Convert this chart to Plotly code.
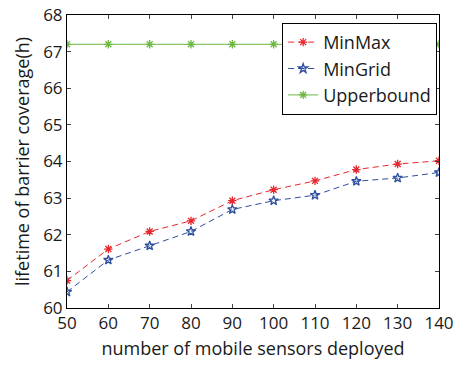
import plotly.graph_objects as go

sensors = [50, 60, 70, 80, 90, 100, 110, 120, 130, 140]
minmax = [60.75, 61.61, 62.09, 62.38, 62.93, 63.23, 63.47, 63.78, 63.93, 64.02]
mingrid = [60.44, 61.31, 61.70, 62.09, 62.69, 62.93, 63.08, 63.46, 63.55, 63.70]
upperbound = [67.2] * len(sensors)

x_ticks = [50, 60, 70, 80, 90, 100, 110, 120, 130, 140]
y_ticks = [60, 61, 62, 63, 64, 65, 66, 67, 68]

FONT = "Open Sans"
TXT = "#1a1a1a"

fig = go.Figure()
fig.add_trace(go.Scatter(
    x=sensors, y=minmax, name="MinMax", mode="lines+markers",
    line=dict(color="#e8262e", width=1, dash="6px,4px"),
    marker=dict(symbol="asterisk-open", size=7, color="#e8262e", line=dict(color="#e8262e", width=1.3)),
))
fig.add_trace(go.Scatter(
    x=sensors, y=mingrid, name="MinGrid", mode="lines+markers",
    line=dict(color="#2e4f9e", width=1, dash="6px,4px"),
    marker=dict(symbol="star-open", size=7, color="#2e4f9e", line=dict(color="#2e4f9e", width=1.3)),
))
fig.add_trace(go.Scatter(
    x=sensors, y=upperbound, name="Upperbound", mode="lines+markers",
    line=dict(color="#6cb843", width=1),
    marker=dict(symbol="asterisk-open", size=7, color="#6cb843", line=dict(color="#6cb843", width=1.3)),
))

fig.update_layout(
    width=461, height=365,
    margin=dict(l=67, r=22, t=15, b=57, autoexpand=False),
    paper_bgcolor="white", plot_bgcolor="white",
    font=dict(family=FONT, size=17, color=TXT),
    showlegend=True,
    legend=dict(
        x=0.995, y=0.973, xanchor="right", yanchor="top",
        bgcolor="white", bordercolor="black", borderwidth=1,
        font=dict(family=FONT, size=18, color=TXT),
        tracegroupgap=0, itemwidth=30,
    ),
    xaxis=dict(
        range=[50, 140], tickvals=x_ticks, ticks="inside", ticklen=4,
        showline=True, linecolor="black", linewidth=1, mirror="ticks",
        showgrid=False, zeroline=False, automargin=False,
        tickfont=dict(family=FONT, size=17, color=TXT),
        title=dict(text="number of mobile sensors deployed", standoff=8,
                   font=dict(family=FONT, size=18, color=TXT)),
    ),
    yaxis=dict(
        range=[60, 68], tickvals=y_ticks, ticks="inside", ticklen=4,
        showline=True, linecolor="black", linewidth=1, mirror="ticks",
        showgrid=False, zeroline=False, automargin=False,
        tickfont=dict(family=FONT, size=17, color=TXT),
        title=dict(text="lifetime of barrier coverage(h)", standoff=8,
                   font=dict(family=FONT, size=18, color=TXT)),
    ),
)

fig.write_html(
    "out.html",
    config={"displayModeBar": False},
    post_script="document.body.style.margin='0';document.body.style.overflow='hidden';",
)
